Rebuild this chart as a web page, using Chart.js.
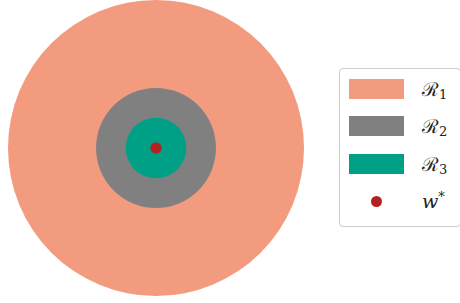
<!DOCTYPE html>
<html>
<head>
<meta charset="utf-8">
<script src="https://cdn.jsdelivr.net/npm/chart.js@4/dist/chart.umd.min.js"></script>
<style>
  body { margin: 0; background: #fff; width: 460px; height: 303px; overflow: hidden; position: relative; }
  #chart { position: absolute; left: 0; top: 0; }
  .legend {
    position: absolute; left: 339px; top: 68px; width: 122px; height: 159px;
    border: 1px solid #cccccc; border-radius: 4px; box-sizing: border-box; background: #fff;
  }
  .legend .row { position: absolute; left: 9px; height: 20px; width: 120px; }
  .legend .swatch { position: absolute; left: 0; top: 0; width: 55px; height: 20px; }
  .legend .dot { position: absolute; left: 22px; top: 4px; width: 11px; height: 11px; border-radius: 50%; }
  .legend .label { position: absolute; left: 73px; top: -3px; font-family: "DejaVu Serif", serif; font-size: 19px; color: #222; white-space: nowrap; }
  .legend .label sub { font-size: 13px; vertical-align: -3px; font-style: normal; }
</style>
</head>
<body>
<canvas id="chart" width="312" height="303"></canvas>
<div class="legend" id="legend"></div>
<script>
// region names, sizes (data units, outer circle = 1) and colours
const regionNames = ['ℛ', 'ℛ', 'ℛ'];
const regionSubs = ['1', '2', '3'];
const regionRadii = [1, 0.405, 0.205];
const regionColors = ['#F39B7F', '#808080', '#00A087'];
// optimum point
const optimum = { x: 0, y: 0 };
const optimumColor = '#B22222';

// radius in pixels from the x scale
function radiusFor(r) {
    return function (ctx) {
        const xs = ctx.chart.scales.x;
        if (!xs) return 0;
        return Math.abs(xs.getPixelForValue(r) - xs.getPixelForValue(0));
    };
}

const datasets = regionRadii.map((r, i) => ({
    label: regionNames[i] + regionSubs[i],
    data: [{ x: 0, y: 0 }],
    pointRadius: radiusFor(r),
    pointHoverRadius: radiusFor(r),
    pointBackgroundColor: regionColors[i],
    pointBorderWidth: 0,
    order: 10 - i,
    clip: false
}));
datasets.push({
    label: 'w*',
    data: [optimum],
    pointRadius: 5.7,
    pointBackgroundColor: optimumColor,
    pointBorderWidth: 0,
    order: 1,
    clip: false
});

new Chart(document.getElementById('chart').getContext('2d'), {
    type: 'scatter',
    data: { datasets: datasets },
    options: {
        responsive: false,
        animation: false,
        layout: { autoPadding: false, padding: { left: 8, right: 8, top: 0, bottom: 7 } },
        scales: {
            x: { type: 'linear', min: -1, max: 1, display: false },
            y: { type: 'linear', min: -1, max: 1, display: false }
        },
        plugins: { legend: { display: false }, tooltip: { enabled: false } }
    }
});

// legend
const legend = document.getElementById('legend');
const rowTops = [10, 47, 85, 123];
regionNames.forEach((name, i) => {
    let row = document.createElement('div');
    row.className = 'row';
    row.style.top = rowTops[i] + 'px';
    row.innerHTML = '<div class="swatch" style="background:' + regionColors[i] + '"></div>' +
        '<div class="label">' + name + '<sub>' + regionSubs[i] + '</sub></div>';
    legend.appendChild(row);
});
let last = document.createElement('div');
last.className = 'row';
last.style.top = rowTops[3] + 'px';
last.innerHTML = '<div class="dot" style="background:' + optimumColor + '"></div>' +
    '<div class="label"><i>w</i><sup style="font-size:13px">*</sup></div>';
legend.appendChild(last);
</script>
</body>
</html>
